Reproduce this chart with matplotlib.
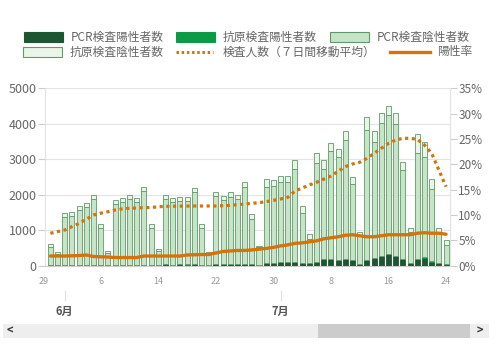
import numpy as np
import matplotlib
matplotlib.use("Agg")
import matplotlib.pyplot as plt
import matplotlib.transforms as mtransforms
from matplotlib.patches import Rectangle
from matplotlib.lines import Line2D

plt.rcParams['font.family'] = ['Noto Sans CJK JP', 'DejaVu Sans']

# days counted from May 29 (=0); bars run May 30 .. Jul 24
days = np.arange(1, 57)

total = [600, 375, 1475, 1513, 1673, 1776, 1983, 1175, 413,
         1842, 1908, 1983, 1898, 2209, 1165, 480,
         1983, 1898, 1936, 1936, 2180, 1165, 395,
         2068, 1964, 2068, 1992, 2350, 1447, 564,
         2434, 2415, 2528, 2528, 2970, 1692, 883,
         3186, 2979, 3468, 3289, 3797, 2491, 950,
         4201, 3806, 4314, 4511, 4295, 2923, 1071,
         3703, 3477, 2434, 1071, 714]
ag_neg = [66, 47, 94, 103, 103, 113, 113, 113, 66,
          113, 113, 113, 113, 113, 113, 66,
          113, 113, 113, 113, 113, 113, 60,
          113, 113, 120, 120, 122, 130, 30,
          207, 170, 180, 160, 245, 216, 130,
          282, 254, 235, 216, 254, 197, 120,
          376, 330, 300, 263, 310, 225, 130,
          517, 404, 272, 130, 130]
pcr_pos = [10, 5, 12, 15, 20, 22, 25, 18, 5,
           25, 28, 22, 20, 30, 20, 8,
           35, 30, 35, 32, 38, 30, 10,
           50, 45, 50, 48, 55, 47, 20,
           85, 85, 113, 113, 113, 85, 66,
           113, 178, 178, 160, 188, 169, 40,
           160, 207, 272, 329, 272, 178, 66,
           188, 225, 113, 66, 40]
ag_pos = [0, 0, 0, 0, 0, 0, 0, 0, 0,
          0, 1, 1, 1, 1, 1, 0,
          1, 1, 1, 2, 2, 1, 0,
          2, 2, 2, 2, 2, 2, 1,
          3, 3, 3, 3, 4, 3, 1,
          4, 4, 5, 5, 5, 4, 2,
          5, 6, 6, 6, 6, 5, 2,
          6, 6, 5, 3, 2]
test_avg = [912, 960, 1005, 1100, 1194, 1310, 1428, 1480, 1520,
            1570, 1600, 1617, 1625, 1635, 1640, 1660,
            1673, 1675, 1678, 1680, 1682, 1682, 1682,
            1682, 1690, 1700, 1720, 1739, 1757, 1776,
            1805, 1840, 1880, 1927, 2105, 2190, 2274,
            2350, 2440, 2528, 2660, 2791, 2867, 2914,
            3026, 3167, 3308, 3449, 3543, 3590, 3590,
            3562, 3402, 3167, 2697, 2227]
pos_rate = [1.9, 1.9, 1.9, 1.95, 2.0, 2.1, 1.8, 1.75, 1.7,
            1.6, 1.6, 1.6, 1.6, 1.9, 1.9, 1.9,
            1.9, 1.9, 1.9, 2.1, 2.15, 2.2, 2.2,
            2.5, 2.8, 2.9, 3.0, 3.0, 3.1, 3.25,
            3.4, 3.6, 3.9, 4.1, 4.4, 4.5, 4.7,
            4.9, 5.3, 5.5, 5.7, 6.0, 6.1, 5.9,
            5.7, 5.7, 5.9, 6.1, 6.1, 6.1, 6.1,
            6.4, 6.5, 6.4, 6.4, 6.2]

tick_days = [0, 8, 16, 24, 32, 40, 48, 56]
tick_labels = ['29', '6', '14', '22', '30', '8', '16', '24']
months = [(3, '6月'), (33, '7月')]

series_names = ['PCR検査陽性者数', '抗原検査陽性者数', 'PCR検査陰性者数',
                '抗原検査陰性者数', '検査人数（７日間移動平均）', '陽性率']

c_pcr_pos = '#1d5631'
c_ag_pos = '#0b9a46'
c_pcr_neg = '#c6e4c6'
c_ag_neg = '#e9f5e9'
c_edge = '#5f9a68'
c_orange = '#d4730b'
grey = '#666666'

total = np.array(total)
ag_neg = np.array(ag_neg)
pcr_pos = np.array(pcr_pos)
ag_pos = np.array(ag_pos)
pcr_neg = total - ag_neg - pcr_pos - ag_pos

fig = plt.figure(figsize=(5.0, 3.45), dpi=100)
ax = fig.add_axes([0.09, 0.23, 0.81, 0.514])

w = 0.7
b = np.zeros(len(days))
for vals, col, ec in [(pcr_pos, c_pcr_pos, c_pcr_pos), (ag_pos, c_ag_pos, c_ag_pos),
                      (pcr_neg, c_pcr_neg, c_edge), (ag_neg, c_ag_neg, c_edge)]:
    ax.bar(days, vals, bottom=b, width=w, color=col, edgecolor=ec, linewidth=0.6, zorder=2)
    b = b + vals

ax.plot(days, test_avg, color=c_orange, linewidth=2.3, linestyle=(0, (1, 1.1)), zorder=4)

ax.set_xlim(0.25, 56.55)
ax.set_ylim(0, 5000)
ax.set_yticks(range(0, 5001, 1000))
ax.grid(axis='y', color='#e3e3e3', linewidth=0.8, zorder=0)
ax.tick_params(axis='y', colors='#cccccc', labelcolor=grey, labelsize=9, length=5, pad=1)
ax.set_xticks([])
ax.spines['top'].set_visible(False)
for s in ['left', 'right']:
    ax.spines[s].set_color('#e3e3e3')
ax.spines['bottom'].set_color('#cccccc')

ax2 = ax.twinx()
ax2.plot(days, pos_rate, color=c_orange, linewidth=2.4, solid_capstyle='round', zorder=5)
ax2.set_ylim(0, 35)
ax2.set_yticks(range(0, 36, 5))
ax2.set_yticklabels([f'{v}%' for v in range(0, 36, 5)])
ax2.tick_params(axis='y', colors='#cccccc', labelcolor=grey, labelsize=8.5, length=5, pad=1)
ax2.set_xlim(ax.get_xlim())
for s in ['top', 'left', 'bottom']:
    ax2.spines[s].set_visible(False)
ax2.spines['right'].set_color('#e3e3e3')

# x labels (day of month) and month labels below
trans = mtransforms.blended_transform_factory(ax.transData, fig.transFigure)
for d, lab in zip(tick_days, tick_labels):
    ax.text(d, 1 - 281 / 345, lab, transform=trans, ha='center', va='center',
            fontsize=6.5, color='#999999', clip_on=False)
for d, lab in months:
    fig.add_artist(Line2D([d, d], [1 - 291 / 345, 1 - 300 / 345], transform=trans,
                          color='#dddddd', linewidth=0.8))
    ax.text(d, 1 - 311 / 345, lab, transform=trans, ha='center', va='center',
            fontsize=8, color='#555555', fontweight='bold', clip_on=False)

# legend (flow layout like the source)
def fx(px):
    return px / 500

def fy(py):
    return 1 - py / 345

legend_items = [
    ('rect', c_pcr_pos, c_pcr_pos, 24, 37, series_names[0]),
    ('rect', c_ag_pos, c_ag_pos, 176, 37, series_names[1]),
    ('rect', c_pcr_neg, c_edge, 330, 37, series_names[2]),
    ('rect', c_ag_neg, c_edge, 23, 52, series_names[3]),
    ('dot', c_orange, None, 176, 52, series_names[4]),
    ('line', c_orange, None, 390, 52, series_names[5]),
]
for kind, col, ec, x0, y0, name in legend_items:
    if kind == 'rect':
        fig.add_artist(Rectangle((fx(x0), fy(y0 + 5)), fx(39), 10 / 345,
                                 transform=fig.transFigure, facecolor=col,
                                 edgecolor=ec, linewidth=0.8))
    elif kind == 'dot':
        fig.add_artist(Line2D([fx(x0), fx(x0 + 37)], [fy(y0), fy(y0)],
                              transform=fig.transFigure, color=col, linewidth=2.2,
                              linestyle=(0, (0.8, 0.9))))
    else:
        fig.add_artist(Line2D([fx(x0), fx(x0 + 40)], [fy(y0), fy(y0)],
                              transform=fig.transFigure, color=col, linewidth=2.4))
    fig.text(fx(x0 + 47), fy(y0), name, ha='left', va='center', fontsize=8.5, color=grey)

# scrollbar
fig.add_artist(Rectangle((fx(3), fy(338)), fx(486), 14 / 345, transform=fig.transFigure,
                         facecolor='#eeeeee', edgecolor='none'))
fig.add_artist(Rectangle((fx(318), fy(338)), fx(152), 14 / 345, transform=fig.transFigure,
                         facecolor='#cccccc', edgecolor='none'))
fig.text(fx(10), fy(331), '<', ha='center', va='center', fontsize=8, color='#333333',
         fontweight='bold')
fig.text(fx(480), fy(331), '>', ha='center', va='center', fontsize=8, color='#333333',
         fontweight='bold')

fig.savefig('out.png', dpi=100)
